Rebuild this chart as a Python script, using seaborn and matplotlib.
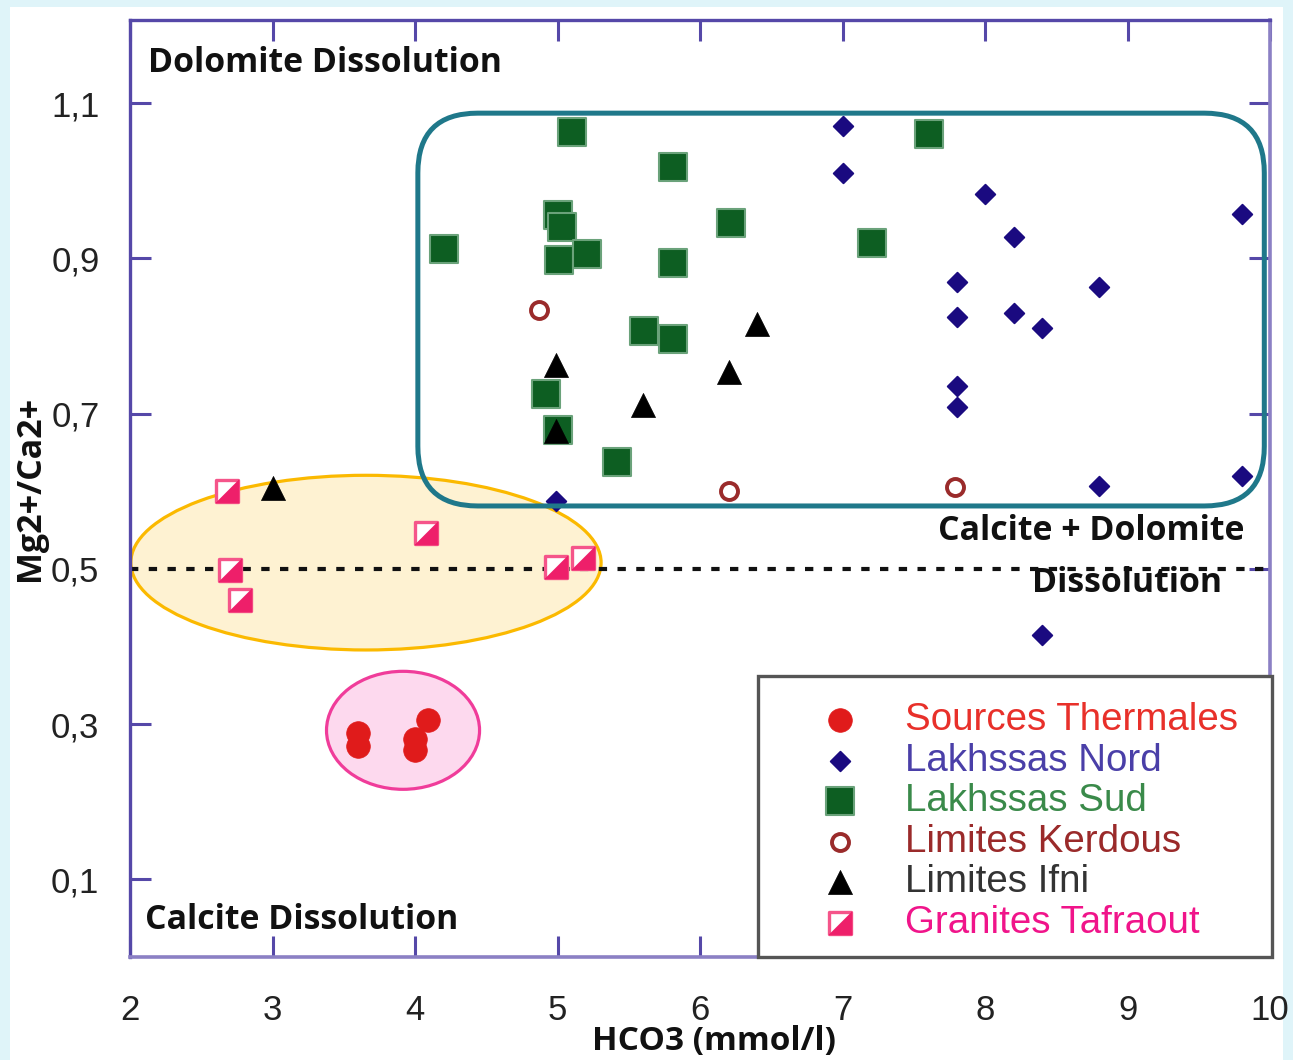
import matplotlib
matplotlib.use("Agg")
import matplotlib.pyplot as plt
import seaborn as sns
import pandas as pd
from matplotlib.patches import Ellipse, FancyBboxPatch, Rectangle
from matplotlib.path import Path
from matplotlib.markers import MarkerStyle
from matplotlib.legend_handler import HandlerTuple

# ---- data: HCO3 (mmol/l) vs Mg2+/Ca2+ ----
sources_x = [3.60, 3.60, 4.00, 4.00, 4.09]
sources_y = [0.289, 0.272, 0.281, 0.267, 0.305]

nord_x = [7.00, 7.00, 8.00, 8.20, 9.80, 7.80, 8.80, 7.80, 8.20, 8.40,
          7.80, 7.80, 8.80, 9.80, 4.99, 8.40]
nord_y = [1.070, 1.010, 0.983, 0.927, 0.957, 0.870, 0.863, 0.825, 0.829, 0.810,
          0.736, 0.708, 0.607, 0.619, 0.587, 0.415]

sud_x = [5.10, 5.81, 7.61, 5.00, 5.03, 4.20, 5.01, 5.21, 6.22, 7.21,
         5.81, 5.61, 5.81, 4.92, 5.00, 5.42]
sud_y = [1.063, 1.018, 1.060, 0.956, 0.940, 0.912, 0.898, 0.906, 0.946, 0.920,
         0.894, 0.807, 0.796, 0.725, 0.679, 0.637]

kerdous_x = [4.87, 6.20, 7.79]
kerdous_y = [0.834, 0.600, 0.606]

ifni_x = [3.00, 4.99, 6.40, 6.20, 5.60, 4.99]
ifni_y = [0.604, 0.762, 0.816, 0.754, 0.711, 0.678]

granite_x = [2.68, 2.70, 2.77, 4.08, 4.99, 5.18]
granite_y = [0.600, 0.499, 0.460, 0.546, 0.503, 0.514]

x_ticks = [2, 3, 4, 5, 6, 7, 8, 9, 10]
y_ticks = [0.1, 0.3, 0.5, 0.7, 0.9, 1.1]
y_tick_labels = ["0,1", "0,3", "0,5", "0,7", "0,9", "1,1"]

labels = ["Sources Thermales", "Lakhssas Nord", "Lakhssas Sud",
          "Limites Kerdous", "Limites Ifni", "Granites Tafraout"]
label_colors = ["#e8302a", "#4a3fa8", "#3a8a4a", "#9a2a2a", "#333333", "#f0148a"]

sns.set_theme(style="white")
plt.rcParams["font.family"] = ["Liberation Sans", "DejaVu Sans"]
BOLD_FAMILY = ["Open Sans", "DejaVu Sans"]

W, H = 1293, 1060
fig = plt.figure(figsize=(W / 100, H / 100), dpi=100)
fig.patch.set_facecolor("#dff4f9")
fig.add_artist(Rectangle((10 / W, 0), (1283 - 10) / W, (H - 7) / H,
                         transform=fig.transFigure, facecolor="white",
                         edgecolor="none", zorder=-10))

ax = fig.add_axes([130 / W, 1 - 957 / H, (1270 - 130) / W, (957 - 20) / H])
ax.set_facecolor("white")
ax.set_xlim(2, 10)
ax.set_ylim(0, 1.207)

# zone outlines
ax.add_patch(Ellipse((3.656, 0.508), 3.30, 0.225, facecolor="#fef2d2",
                     edgecolor="#fbb900", lw=2.3, zorder=1))
ax.add_patch(Ellipse((3.916, 0.292), 1.074, 0.152, facecolor="#fdd9ee",
                     edgecolor="#f03c9a", lw=2.3, zorder=1))
ax.add_patch(FancyBboxPatch((4.02, 0.581), 9.96 - 4.02, 1.087 - 0.581,
                            boxstyle="round,pad=0,rounding_size=0.42",
                            mutation_aspect=0.183, facecolor="none",
                            edgecolor="#1f788a", lw=3.6, zorder=5))

ax.axhline(0.5, color="#111111", lw=3, ls=(0, (2, 2.5)), zorder=2)

handles = []


def plot_group(xs, ys, **kw):
    df = pd.DataFrame({"HCO3": xs, "ratio": ys})
    sns.scatterplot(data=df, x="HCO3", y="ratio", ax=ax, zorder=4, **kw)
    return ax.collections[-1]


handles.append(plot_group(sources_x, sources_y, marker="o", s=290,
                          color="#e01b1b", edgecolor="#e01b1b", linewidth=0.5))
handles.append(plot_group(nord_x, nord_y, marker="D", s=100,
                          color="#1a0a80", edgecolor="#1a0a80", linewidth=1.3))
handles.append(plot_group(sud_x, sud_y, marker="s", s=400,
                          color="#0d5e22", edgecolor="#6aa27a", linewidth=1.5))
handles.append(plot_group(kerdous_x, kerdous_y, marker="o", s=150,
                          color="white", edgecolor="#9a2b2b", linewidth=2.8))
handles.append(plot_group(ifni_x, ifni_y, marker="^", s=300,
                          color="black", edgecolor="black", linewidth=0.5))
corner = MarkerStyle(Path([(-1, -1), (1, -1), (1, 1), (-1, -1)]))
sq = plot_group(granite_x, granite_y, marker="s", s=270,
                color="white", edgecolor="#f5558a", linewidth=2.4)
tri = plot_group(granite_x, granite_y, marker=corner, s=270,
                 color="#ee1f6a", edgecolor="#ee1f6a", linewidth=0.5)
handles.append((sq, tri))

# axes styling
for side in ["left", "top"]:
    ax.spines[side].set_color("#5548a8")
    ax.spines[side].set_linewidth(2.4)
for side in ["right", "bottom"]:
    ax.spines[side].set_color("#8b80c4")
    ax.spines[side].set_linewidth(2.6)

ax.set_xticks(x_ticks)
ax.set_xticklabels([str(t) for t in x_ticks])
ax.set_yticks(y_ticks)
ax.set_yticklabels(y_tick_labels)
ax.tick_params(axis="both", direction="in", length=15, width=2.2,
               colors="#5548a8", labelcolor="#222222", labelsize=25)
ax.tick_params(axis="x", top=True, bottom=True, pad=27)
ax.tick_params(axis="y", left=True, right=True, pad=22)

ax.set_xlabel("HCO3 (mmol/l)", fontsize=24, fontweight="bold",
              family=BOLD_FAMILY, color="#111111")
ax.xaxis.set_label_coords(0.512, -0.073)
ax.set_ylabel("Mg2+/Ca2+", fontsize=24.5, fontweight="bold",
              family=BOLD_FAMILY, color="#111111")
ax.yaxis.set_label_coords(-0.073, 0.5)

note_kw = dict(transform=ax.transAxes, fontsize=24.4, fontweight="bold",
               family=BOLD_FAMILY, color="#111111", va="center", zorder=6)
ax.text(0.0158, 0.954, "Dolomite Dissolution", ha="left", **note_kw)
ax.text(0.013, 0.0395, "Calcite Dissolution", ha="left", **note_kw)
ax.text(0.978, 0.4546, "Calcite + Dolomite", ha="right", **note_kw)
ax.text(0.958, 0.399, "Dissolution", ha="right", **note_kw)

# legend box
ax.add_patch(Rectangle((0.551, 0.0), 0.451, 0.300, transform=ax.transAxes,
                       facecolor="white", edgecolor="#555555", lw=2.4,
                       zorder=7, clip_on=False))
leg = ax.legend(handles, labels, loc="upper left",
                bbox_to_anchor=(0.603, 0.272), frameon=False,
                fontsize=27.7, handlelength=1.17, handletextpad=1.10,
                labelspacing=0.117, borderpad=0, borderaxespad=0,
                handler_map={tuple: HandlerTuple(ndivide=1, pad=0)})
leg.set_zorder(8)
for txt, c in zip(leg.get_texts(), label_colors):
    txt.set_color(c)

fig.savefig("out.png", dpi=100, facecolor=fig.get_facecolor())
